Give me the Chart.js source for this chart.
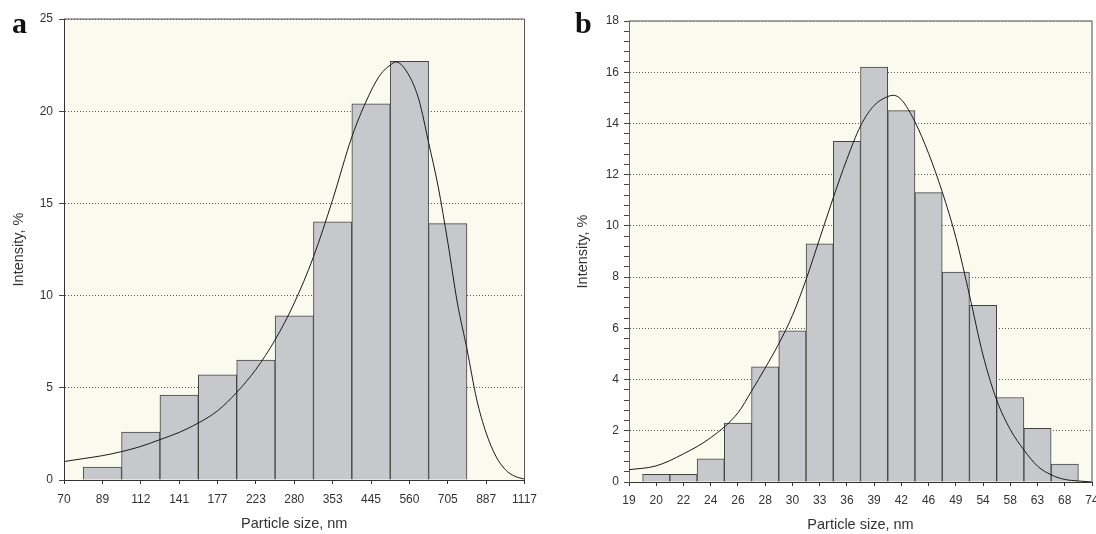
<!DOCTYPE html>
<html>
<head>
<meta charset="utf-8">
<title>Particle size distribution</title>
<script src="https://cdn.jsdelivr.net/npm/chart.js@4.4.0/dist/chart.umd.min.js"></script>
<style>
    html, body { margin: 0; padding: 0; background: #fff; overflow: hidden; }
    body { width: 1096px; height: 534px; position: relative; }
    .panel { position: absolute; top: 0; height: 534px; }
    #panel-a { left: 0; width: 545px; }
    #panel-b { left: 545px; width: 565px; }
    .tag {
        position: absolute;
        font-family: "Liberation Serif", "DejaVu Serif", serif;
        font-weight: bold;
        font-size: 30px;
        line-height: 1;
        color: #111;
    }
</style>
</head>
<body>
<div class="panel" id="panel-a"><canvas id="chart-a" width="545" height="534"></canvas></div>
<div class="panel" id="panel-b"><canvas id="chart-b" width="565" height="534"></canvas></div>
<div class="tag" style="left:12px; top:8px;">a</div>
<div class="tag" style="left:575px; top:8px;">b</div>

<script>
// Panel a - tick labels (nm) and bar heights (%), bars sit on the labelled sizes
const sizesA = ['70', '89', '112', '141', '177', '223', '280', '353', '445', '560', '705', '887', '1117'];
const intensityA = [null, 0.7, 2.6, 4.6, 5.7, 6.5, 8.9, 14.0, 20.4, 22.7, 13.9, null, null];

// Panel a - fitted curve, x is the position along the size axis (label index)
const curvePosA = [0, 0.5, 1, 1.5, 2, 2.5, 3, 3.5, 4, 4.5, 5, 5.5, 6, 6.5, 7, 7.5, 8, 8.25, 8.5, 8.65,
    9, 9.25, 9.5, 9.75, 10, 10.25, 10.5, 10.75, 11, 11.25, 11.5, 11.75, 12];
const curveValA = [1.0, 1.16, 1.32, 1.54, 1.82, 2.19, 2.58, 3.09, 3.75, 4.75, 6.0, 7.6, 9.6, 12.1, 15.2, 18.6, 21.1, 22.0, 22.5, 22.67,
    21.9, 20.6, 18.3, 15.9, 12.9, 9.6, 7.1, 4.4, 2.55, 1.3, 0.56, 0.2, 0.05];

// Panel b
const sizesB = ['19', '20', '22', '24', '26', '28', '30', '33', '36', '39', '42', '46', '49', '54', '58', '63', '68', '74'];
const intensityB = [null, 0.3, 0.3, 0.9, 2.3, 4.5, 5.9, 9.3, 13.3, 16.2, 14.5, 11.3, 8.2, 6.9, 3.3, 2.1, 0.7, null];

const curvePosB = [0, 1, 2, 3, 4, 4.5, 5, 5.5, 6, 6.5, 7, 7.5, 8, 8.5, 9, 9.5, 9.7,
    10, 10.5, 11, 11.5, 12, 12.5, 13, 13.5, 14, 14.5, 15, 15.5, 16, 16.5, 17];
const curveValB = [0.48, 0.63, 1.1, 1.73, 2.7, 3.55, 4.45, 5.4, 6.5, 7.9, 9.5, 11.1, 12.6, 13.9, 14.7, 15.05, 15.1,
    14.93, 14.06, 12.83, 11.33, 9.55, 7.3, 4.95, 3.2, 2.05, 1.25, 0.62, 0.28, 0.1, 0.04, 0.0];

// Common look
const TEXT_COLOR = '#333';
const PLOT_BG = '#fafbee';
const BAR_FILL = '#c7c8cb';
const BAR_EDGE = '#444';

Chart.defaults.font.family = '"Liberation Sans", Arial, sans-serif';
Chart.defaults.color = TEXT_COLOR;

// Cream plot area plus the top/right frame lines
const plotFrame = {
    id: 'plotFrame',
    beforeDraw(chart, args, opts) {
        const { ctx, chartArea: a } = chart;
        ctx.save();
        ctx.fillStyle = PLOT_BG;
        ctx.fillRect(a.left, a.top, a.right - a.left, a.bottom - a.top);
        ctx.restore();
    },
    afterDraw(chart, args, opts) {
        const { ctx, chartArea: a } = chart;
        ctx.save();
        ctx.strokeStyle = opts.color;
        ctx.lineWidth = opts.width;
        ctx.beginPath();
        ctx.moveTo(a.left, a.top);
        ctx.lineTo(a.right, a.top);
        ctx.lineTo(a.right, a.bottom);
        ctx.stroke();
        ctx.restore();
    }
};

function zipPoints(xs, ys) {
    return xs.map((x, i) => ({ x: x, y: ys[i] }));
}

function buildChart(canvasId, p) {
    const ctx = document.getElementById(canvasId).getContext('2d');
    return new Chart(ctx, {
        type: 'bar',
        data: {
            labels: p.labels,
            datasets: [
                {
                    type: 'line',
                    data: zipPoints(p.curvePos, p.curveVal),
                    xAxisID: 'xc',
                    borderColor: '#1a1a1a',
                    borderWidth: 1,
                    pointRadius: 0,
                    cubicInterpolationMode: 'monotone',
                    fill: false,
                    order: 0
                },
                {
                    type: 'bar',
                    data: p.bars,
                    xAxisID: 'x',
                    backgroundColor: BAR_FILL,
                    borderColor: BAR_EDGE,
                    borderWidth: 1,
                    grouped: false,
                    barPercentage: 1,
                    categoryPercentage: 1,
                    order: 1
                }
            ]
        },
        options: {
            responsive: false,
            animation: false,
            layout: { padding: p.padding },
            plugins: {
                legend: { display: false },
                tooltip: { enabled: false },
                plotFrame: { color: p.frameColor, width: p.frameWidth }
            },
            scales: {
                x: {
                    type: 'category',
                    offset: false,
                    grid: { offset: false, drawOnChartArea: false, tickLength: 4, tickColor: '#333' },
                    border: { color: '#333', width: 1 },
                    ticks: { autoSkip: false, maxRotation: 0, padding: p.xTickPad, font: { size: 12 } },
                    title: {
                        display: true,
                        text: 'Particle size, nm',
                        font: { size: 14.5 },
                        padding: { top: 0, bottom: p.xTitlePad }
                    },
                    afterFit: s => { s.height = p.xHeight; }
                },
                xc: {
                    type: 'linear',
                    display: false,
                    offset: false,
                    grid: { offset: false },
                    min: 0,
                    max: p.labels.length - 1
                },
                y: {
                    min: 0,
                    max: p.yMax,
                    grid: {
                        color: c => (c.tick && p.isMajor(c.tick.value)) ? '#555' : 'rgba(0,0,0,0)',
                        tickLength: 5,
                        tickColor: '#444'
                    },
                    border: { color: p.yAxisColor, width: 1, dash: [1, 2] },
                    ticks: {
                        stepSize: p.yStep,
                        autoSkip: false,
                        padding: p.yTickPad,
                        font: { size: 12 },
                        callback: v => p.isMajor(v) ? Math.round(v) : ''
                    },
                    title: {
                        display: true,
                        text: 'Intensity, %',
                        font: { size: 14.5 },
                        padding: { top: p.yTitlePad, bottom: 0 }
                    },
                    afterFit: s => { s.width = p.yWidth; }
                }
            }
        },
        plugins: [plotFrame]
    });
}

function initCharts() {
    buildChart('chart-a', {
        labels: sizesA,
        bars: intensityA,
        curvePos: curvePosA,
        curveVal: curveValA,
        yMax: 25,
        yStep: 5,
        isMajor: v => Math.abs(v / 5 - Math.round(v / 5)) < 1e-6,
        padding: { top: 19, right: 17, left: 0, bottom: 0 },
        xHeight: 54,
        yWidth: 64,
        xTickPad: 8,
        yTickPad: 6,
        xTitlePad: 1,
        yTitlePad: 10,
        yAxisColor: '#333',
        frameColor: '#555',
        frameWidth: 1
    });

    buildChart('chart-b', {
        labels: sizesB,
        bars: intensityB,
        curvePos: curvePosB,
        curveVal: curveValB,
        yMax: 18,
        yStep: 0.4,
        isMajor: v => Math.abs(v / 2 - Math.round(v / 2)) < 1e-6,
        padding: { top: 21, right: 18, left: 0, bottom: 0 },
        xHeight: 52,
        yWidth: 84,
        xTickPad: 7,
        yTickPad: 5,
        xTitlePad: 0,
        yTitlePad: 29,
        yAxisColor: '#666',
        frameColor: '#888',
        frameWidth: 1.5
    });
}

document.addEventListener('DOMContentLoaded', initCharts);
</script>
</body>
</html>
